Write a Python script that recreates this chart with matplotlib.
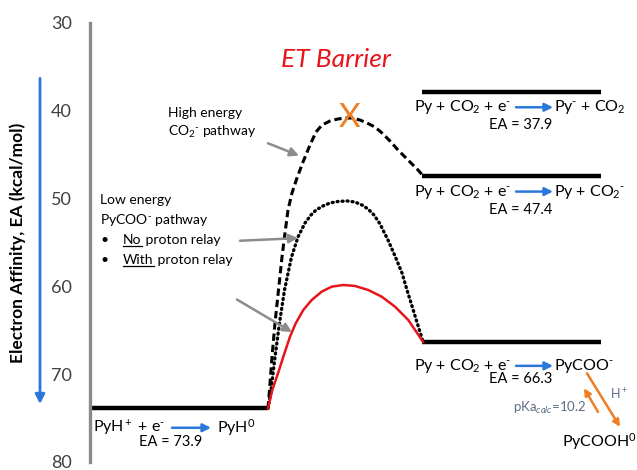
import numpy as np
import matplotlib.pyplot as plt

plt.rcParams['font.family'] = ['Lato', 'DejaVu Sans']
plt.rcParams['mathtext.fontset'] = 'custom'
plt.rcParams['mathtext.rm'] = 'Lato'
plt.rcParams['mathtext.it'] = 'Lato:italic'
plt.rcParams['mathtext.bf'] = 'Lato:bold'

NEG = r'$^{\text{-}}$'

# electron affinities of the reactant and the three product states (kcal/mol)
ea_reactant = 73.9
ea_products = [37.9, 47.4, 66.3]
product_left = ['Py + CO$_2$ + e' + NEG] * 3
product_right = ['Py' + NEG + ' + CO$_2$', 'Py + CO$_2$' + NEG, 'PyCOO' + NEG]
ea_ticks = [30, 40, 50, 60, 70, 80]

# reaction coordinate vs EA along each pathway
rc_high = [268, 269.5, 272, 275, 278.5, 282, 285, 288, 292, 297, 303, 310, 316, 322, 330,
           338, 346, 352, 360, 367, 375, 382, 390, 398, 405, 412, 418, 423]
ea_high = [73.9, 71.80, 68.04, 64.17, 60.41, 56.65, 53.92, 51.30, 49.36, 47.65, 45.83, 43.90,
           42.41, 41.62, 41.16, 40.93, 40.82, 40.82, 41.05, 41.39, 41.85, 42.53, 43.44, 44.46,
           45.26, 46.06, 46.74, 47.4]

rc_norelay = [268, 271, 275, 279.5, 284.5, 291.5, 298, 305, 311, 316, 323, 330, 338, 347,
              355, 362, 368, 374, 380, 388, 395, 402, 407, 412, 417.5, 423]
ea_norelay = [73.9, 71.80, 68.04, 64.17, 60.41, 56.65, 54.37, 52.78, 51.87, 51.30, 50.84,
              50.50, 50.33, 50.27, 50.39, 50.73, 51.18, 51.87, 52.89, 54.72, 56.54, 58.47,
              60.41, 62.24, 64.28, 66.3]

rc_relay = [268, 272.3, 278, 283.3, 290, 295.7, 303.3, 311.7, 321.7, 331.7, 343.3, 355,
            368.3, 381.7, 395, 408.3, 423]
ea_relay = [73.9, 71.80, 69.9, 68.01, 65.73, 64.20, 62.69, 61.55, 60.60, 60.03, 59.84, 59.95,
            60.41, 61.17, 62.31, 63.83, 66.3]

blue = '#2b78dc'
orange = '#ef7d22'
grey = '#8c8c8c'
slate = '#5f6f84'

fig = plt.figure(figsize=(6.37, 4.70), dpi=100)
ax = fig.add_axes([90 / 637, 8 / 470, 547 / 637, 439 / 470])
ax.set_xlim(90, 637)
ax.set_ylim(80, 30)

for s in ['top', 'right', 'bottom']:
    ax.spines[s].set_visible(False)
ax.spines['left'].set_color('#8a8a8a')
ax.spines['left'].set_linewidth(2.4)
ax.set_xticks([])
ax.set_yticks(ea_ticks)
ax.tick_params(axis='y', length=0, pad=13, labelsize=13, labelcolor='#404040')
ax.set_ylabel('Electron Affinity, EA (kcal/mol)', fontsize=12.5, fontweight='bold')
ax.yaxis.set_label_coords(-0.117, 0.5)

# blue arrow along the axis: more negative EA downward
ax.annotate('', xy=(40 / 637, 73.4), xytext=(40 / 637, 36.3),
            xycoords=('figure fraction', 'data'), textcoords=('figure fraction', 'data'),
            arrowprops=dict(arrowstyle='-|>', color=blue, lw=2, mutation_scale=14,
                            shrinkA=0, shrinkB=0), annotation_clip=False)

# energy levels
ax.plot([88, 268], [ea_reactant] * 2, color='black', lw=3.2, solid_capstyle='butt')
for ea in ea_products:
    ax.plot([422, 601], [ea, ea], color='black', lw=3.2, solid_capstyle='butt')

# pathways
ax.plot(rc_high, ea_high, color='black', lw=2.2, dashes=(2.4, 1.3))
ax.plot(rc_norelay, ea_norelay, color='black', lw=2.4, ls=(0, (0.3, 1.2)),
        dash_capstyle='round')
ax.plot(rc_relay, ea_relay, color='#e8141b', lw=1.8)

ax.text(349, 40.8, 'X', color=orange, fontsize=24, ha='center', va='center')
ax.text(336, 34.2, 'ET Barrier', color='#e8141b', fontsize=19, style='italic',
        ha='center', va='center')

# pathway labels
ax.text(168, 40.25, 'High energy', fontsize=10, va='center')
ax.text(168, 42.4, 'CO$_2$' + NEG + ' pathway', fontsize=10, va='center')
ax.text(100, 50.2, 'Low energy', fontsize=10, va='center')
ax.text(100, 52.4, 'PyCOO' + NEG + ' pathway', fontsize=10, va='center')

fig.canvas.draw()
renderer = fig.canvas.get_renderer()
inv = ax.transData.inverted()
for ea, first, rest in [(54.7, 'No', ' proton relay'), (57.0, 'With', ' proton relay')]:
    ax.text(101, ea, '\u2022', fontsize=10, va='center')
    t = ax.text(123, ea, first, fontsize=10, va='center')
    bb = t.get_window_extent(renderer)
    (x0, y0), (x1, _) = inv.transform([(bb.x0, bb.y0), (bb.x1, bb.y0)])
    ax.plot([x0, x1], [y0, y0], color='black', lw=0.9)
    ax.text(x1, ea, rest, fontsize=10, va='center')

arrow_kw = dict(arrowstyle='-|>', color=grey, lw=1.8, mutation_scale=13, shrinkA=0, shrinkB=0)
ax.annotate('', xy=(299, 45.1), xytext=(268, 43.7), arrowprops=arrow_kw)
ax.annotate('', xy=(298, 54.5), xytext=(240, 54.8), arrowprops=arrow_kw)
ax.annotate('', xy=(292, 65.2), xytext=(237, 61.5), arrowprops=arrow_kw)

# product labels
text_off = [1.7, 1.8, 2.75]
ea_off = [3.75, 3.85, 4.25]
for ea, left, right, dt, de in zip(ea_products, product_left, product_right, text_off, ea_off):
    ax.text(511, ea + dt, left, fontsize=11.5, ha='right', va='center')
    ax.annotate('', xy=(553, ea + dt), xytext=(516, ea + dt),
                arrowprops=dict(arrowstyle='-|>', color=blue, lw=1.8, mutation_scale=12,
                                shrinkA=0, shrinkB=0))
    ax.text(554, ea + dt, right, fontsize=11.5, ha='left', va='center')
    ax.text(521, ea + de, 'EA = %.1f' % ea, fontsize=10.5, ha='center', va='center')

# reactant label
ax.text(165, 76.1, 'PyH$^+$ + e' + NEG, fontsize=11.5, ha='right', va='center')
ax.annotate('', xy=(211, 76.1), xytext=(172, 76.1),
            arrowprops=dict(arrowstyle='-|>', color=blue, lw=1.8, mutation_scale=12,
                            shrinkA=0, shrinkB=0))
ax.text(217, 76.1, 'PyH$^0$', fontsize=11.5, ha='left', va='center')
ax.text(171, 77.7, 'EA = %.1f' % ea_reactant, fontsize=10.5, ha='center', va='center')

# protonation equilibrium
ax.annotate('', xy=(620, 76.0), xytext=(587, 69.9),
            arrowprops=dict(arrowstyle='-|>', color=orange, lw=1.8, mutation_scale=10,
                            shrinkA=0, shrinkB=0))
ax.annotate('', xy=(584, 71.6), xytext=(598, 74.3),
            arrowprops=dict(arrowstyle='-|>', color=orange, lw=1.8, mutation_scale=10,
                            shrinkA=0, shrinkB=0))
ax.text(587, 73.85, 'pKa$_{calc}$=10.2', fontsize=9.5, color=slate, ha='right', va='center')
ax.text(610, 72.25, 'H$^+$', fontsize=9, color=slate, ha='left', va='center')
ax.text(562, 77.7, 'PyCOOH$^0$', fontsize=11.5, ha='left', va='center')

plt.savefig('out.png', dpi=100)
